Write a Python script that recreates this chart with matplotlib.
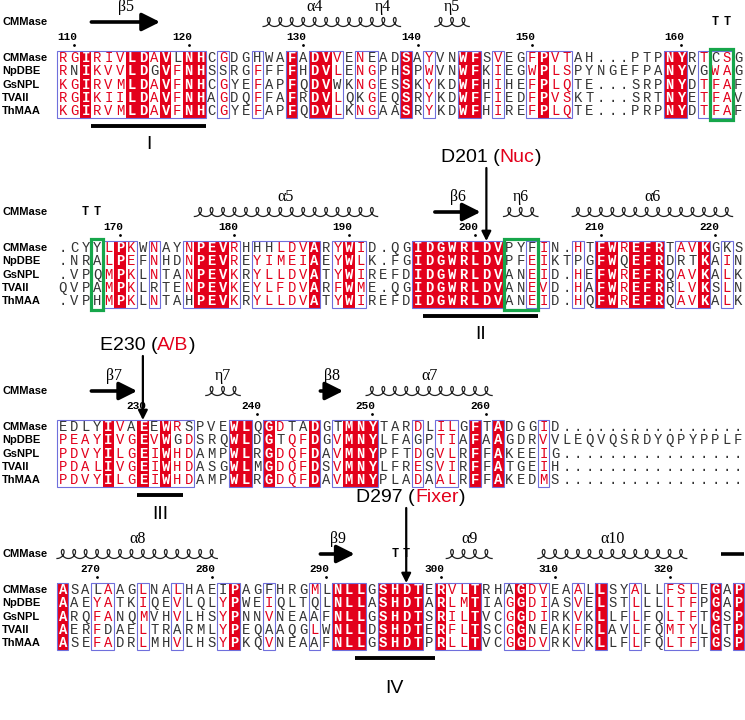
import matplotlib.pyplot as plt
import numpy as np
from matplotlib.patches import Rectangle
from matplotlib.offsetbox import TextArea, HPacker, AnnotationBbox

# ---------------- alignment data ----------------
names = ['CMMase', 'NpDBE', 'GsNPL', 'TVAII', 'ThMAA']

block1 = [
    'RGIRIVLDAVLNHCGDGHWAFADVVENEADSAYVNWFSVEGFPVTAH...PTPNYRTCSG',
    'RNIKVVLDGVFNHSSRGFFFFHDVLENGPHSPWVNWFKIEGWPLSPYNGEFPANYVGWAG',
    'KGIRVMLDAVFNHCGYEFAPFQDVWKNGESSKYKDWFHIHEFPLQTE...SRPNYDTFAF',
    'RGIKIILDAVFNHAGDQFFAFRDVLQKGEQSRYKDWFFIEDFPVSKT...SRTNYETFAV',
    'KGIRVMLDAVFNHCGYEFAPFQDVLKNGAASRYKDWFHIREFPLQTE...PRPNYDTFAF',
]
block2 = [
    '.CYYLPKWNAYNPEVRHHHLDVARYWID.QGIDGWRLDVPYFIN.HTFWREFRTAVKGKS',
    '.NRALPEFNHDNPEVREYIMEIAEYWLK.FGIDGWRLDVPFEIKTPGFWQEFRDRTKAIN',
    '.VPQMPKLNTANPEVKRYLLDVATYWIREFDIDGWRLDVANEID.HEFWREFRQAVKALK',
    'QVPAMPKLRTENPEVKEYLFDVARFWME.QGIDGWRLDVANEVD.HAFWREFRRLVKSLN',
    '.VPHMPKLNTAHPEVKRYLLDVATYWIREFDIDGWRLDVANEID.HQFWREFRQAVKALK',
]
block3 = [
    'EDLYIVAEEWRSPVEWLQGDTADGTMNYTARDLILGFTADGGID................',
    'PEAYIVGEVWGDSRQWLDGTQFDGVMNYLFAGPTIAFAAGDRVVLEQVQSRDYQPYPPLF',
    'PDVYILGEIWHDAMPWLRGDQFDAVMNYPFTDGVLRFFAKEEIG................',
    'PDALIVGEIWHDASGWLMGDQFDSVMNYLFRESVIRFFATGEIH................',
    'PDVYILGEIWHDAMPWLRGDQFDAVMNYPLADAALRFFAKEDMS................',
]
block4 = [
    'ASALAAGLNALHAEIPAGFHRGMLNLLGSHDTERVLTRHAGDVEAALLSYALLFSLEGAP',
    'AAEYATKIQEVLQLYPWEIQLTQLNLLASHDTARLMTIAGGDIASVELSTLLLLTFPGAP',
    'ARQFANQMVHVLHSYPNNVNEAAFNLLGSHDTSRILTVCGGDIRKVKLLFLFQLTFTGSP',
    'AERFDAELTRARMLYPEQAAQGLWNLLDSHDTERFLTSCGGNEAKFRLAVLFQMTYLGTP',
    'ASEFADRLMHVLHSYPKQVNEAAFNLLGSHDTPRLLTVCGGDVRKVKLLFLFQLTFTGSP',
]
blocks = [block1, block2, block3, block4]

# column class: I = strictly conserved, S = similar (boxed), - = none
classes = [
    'SSISSSIISI' 'SII-S--S--' 'I-IIS-SS--' 'I-S--II-S-' '-SISS-----' '---II-SSS-',
    '----SIS-S-' '-SIIIS-SSS' 'SSI-SIS---' '-IIIIIIII-' '-SS--S-IIS' 'III-SSI-S-',
    'SSSSISSISI' 'SS---II-IS' 'SSI-SIII--' '-S-SS-I-I-' '--S-------' '----------',
    'I--SS--S--' 'S---SI--S-' '--S-III-II' 'II-ISSI--S' 'ISS--S-I--' 'S--SSS-I-I',
]
# residues inside boxed columns that stay black (row, column)
black_res = [
    [(1, 1), (1, 8), (0, 10), (1, 14), (0, 17), (2, 24), (3, 26), (0, 27), (1, 56), (0, 57)],
    [(3, 8), (4, 11), (0, 17), (0, 18), (0, 41), (1, 45), (1, 49), (1, 54), (1, 55), (0, 58)],
    [(0, 0), (0, 1), (0, 2), (0, 3), (0, 6), (0, 8), (1, 10), (0, 11), (1, 19), (0, 20),
     (0, 21), (0, 24), (1, 31)],
    [(0, 3), (3, 4), (3, 10), (0, 14), (0, 18), (3, 18), (1, 22), (2, 22), (4, 22),
     (0, 39), (3, 41), (3, 42)],
]
first_residue = 109   # CMMase numbering of the first column

# secondary structure of CMMase: (kind, label, first col, last col)
ss_elements = [
    [('strand', 'β5', 3, 8), ('helix', 'α4', 18, 26), ('helix', 'η4', 27, 29),
     ('helix', 'η5', 33, 35), ('turn', '', 57, 58)],
    [('turn', '', 2, 3), ('helix', 'α5', 12, 27), ('strand', 'β6', 33, 36),
     ('helix', 'η6', 39, 41), ('helix', 'α6', 45, 58)],
    [('strand', 'β7', 3, 6), ('helix', 'η7', 13, 15), ('strand', 'β8', 23, 24),
     ('helix', 'α7', 27, 37)],
    [('helix', 'α8', 0, 13), ('strand', 'β9', 23, 25), ('turn', '', 29, 30),
     ('helix', 'α9', 34, 37), ('helix', 'α10', 42, 54), ('bar', '', 58, 59)],
]
green_boxes = [(0, 57, 58), (1, 3, 3), (1, 39, 41)]
motifs = [(0, 3, 12, 'I'), (1, 32, 41, 'II'), (2, 7, 10, 'III'), (3, 26, 32, 'IV')]
key_residues = [(1, 37, 'D201 (', 'Nuc', ')'),
                (2, 7, 'E230 (', 'A/B', ')'),
                (3, 30, 'D297 (', 'Fixer', ')')]

# ---------------- layout ----------------
RED = '#e3001b'
BLUE = '#6f6fdc'
GREEN = '#16a64a'
GREY = '#333333'
COL_W = 11.45
X0 = 57.0
ROW_H = 13.3
block_top = [58, 248, 427, 590]
key_label_y = [157, 345, 497]
motif_label_gap = [18, 18, 19, 30]
MONO = 'Liberation Mono'
SANS = 'Liberation Sans'
SERIF = 'Liberation Serif'
name_x = -X0 / COL_W - 0.5 + 0.2


def runs(mask):
    out, start = [], None
    for i, m in enumerate(list(mask) + [False]):
        if m and start is None:
            start = i
        elif not m and start is not None:
            out.append((start, i - 1))
            start = None
    return out


def draw_helix(ax, c0, c1, y):
    n = c1 - c0 + 1
    t = np.linspace(0, 2 * np.pi * n, 80 * n)
    x = c0 - 0.5 + t / (2 * np.pi) + 0.33 * np.sin(t)
    yy = y + 4.5 - 4.5 * (1 - np.cos(t))
    ax.plot(x, yy, color='#222222', lw=0.9, zorder=5)


fig = plt.figure(figsize=(7.45, 7.2), dpi=100)
ax = fig.add_axes([0, 0, 1, 1])
ax.set_xlim(-X0 / COL_W - 0.5, (745 - X0) / COL_W - 0.5)
ax.set_ylim(720, 0)
ax.axis('off')

res = first_residue
for b, seqs in enumerate(blocks):
    y0 = block_top[b]
    ys = y0 + ROW_H * np.arange(len(seqs))
    top, bot = y0 - 7, ys[-1] + 7
    cls = classes[b]

    for s, e in runs([c == 'I' for c in cls]):
        ax.add_patch(Rectangle((s - 0.5, top), e - s + 1, bot - top,
                               fc=RED, ec='none', zorder=1))
    for s, e in runs([c != '-' for c in cls]):
        ax.add_patch(Rectangle((s - 0.5, top), e - s + 1, bot - top,
                               fc='none', ec=BLUE, lw=0.8, zorder=4))

    for r, seq in enumerate(seqs):
        ax.text(name_x, ys[r], names[r], ha='left', va='center',
                fontsize=8, fontweight='bold', family=SANS)
        for c, ch in enumerate(seq):
            if cls[c] == 'I':
                color, weight = 'white', 'bold'
            elif cls[c] == 'S' and (r, c) not in black_res[b]:
                color, weight = RED, 'normal'
            else:
                color, weight = GREY, 'normal'
            ax.text(c, ys[r], ch, ha='center', va='center', color=color,
                    fontweight=weight, family=MONO, fontsize=10, zorder=3)

    # residue numbering of CMMase
    for c, ch in enumerate(seqs[0]):
        if ch == '.':
            continue
        if res % 10 == 0:
            ax.text(c + 0.3, y0 - 21, str(res), ha='right', va='center',
                    fontsize=8, fontweight='bold', family=MONO)
            ax.plot(c, y0 - 13, 'k.', ms=2)
        res += 1

    # secondary structure line
    y_ss = y0 - 36
    ax.text(name_x, y_ss, names[0], ha='left', va='center',
            fontsize=8, fontweight='bold', family=SANS)
    for kind, label, s, e in ss_elements[b]:
        if kind == 'helix':
            draw_helix(ax, s, e, y_ss)
        elif kind == 'strand':
            ax.annotate('', xy=(e + 0.5, y_ss), xytext=(s - 0.5, y_ss),
                        arrowprops=dict(arrowstyle='-|>,head_length=0.9,head_width=0.45',
                                        lw=2.6, color='k', shrinkA=0, shrinkB=0,
                                        mutation_scale=12))
        elif kind == 'turn':
            for c in range(s, e + 1):
                ax.text(c, y_ss, 'T', ha='center', va='center', fontsize=8.5,
                        fontweight='bold', family=MONO)
        elif kind == 'bar':
            ax.plot([s - 0.5, e + 0.5], [y_ss, y_ss], color='k', lw=2.6,
                    solid_capstyle='butt')
        if label:
            ax.text((s + e) / 2, y_ss - 15, label, ha='center', va='center',
                    fontsize=11.5, family=SERIF)

for b, s, e in green_boxes:
    y0 = block_top[b]
    top, bot = y0 - 9, y0 + ROW_H * 4 + 9
    ax.add_patch(Rectangle((s - 0.5, top), e - s + 1, bot - top, fc='none',
                           ec=GREEN, lw=2.3, zorder=6))

for (b, s, e, label), gap in zip(motifs, motif_label_gap):
    bar_y = block_top[b] + ROW_H * 4 + 15
    ax.plot([s - 0.5, e + 0.5], [bar_y, bar_y], color='k', lw=2.8,
            solid_capstyle='butt')
    ax.text((s + e) / 2, bar_y + gap, label, ha='center', va='center',
            fontsize=14, family=SANS)

for (b, c, pre, role, post), ly in zip(key_residues, key_label_y):
    ax.annotate('', xy=(c, block_top[b] - 7), xytext=(c, ly + 11),
                arrowprops=dict(arrowstyle='-|>', lw=1.6, color='k', shrinkA=0,
                                shrinkB=0, mutation_scale=14), zorder=7)
    tp = dict(fontsize=14, family=SANS)
    box = HPacker(children=[TextArea(pre, textprops=dict(color='k', **tp)),
                            TextArea(role, textprops=dict(color=RED, **tp)),
                            TextArea(post, textprops=dict(color='k', **tp))],
                  sep=0, pad=0, align='baseline')
    ax.add_artist(AnnotationBbox(box, (c + 0.4, ly), frameon=False,
                                 box_alignment=(0.5, 0.5), pad=0))

fig.savefig('out.png', dpi=100)
